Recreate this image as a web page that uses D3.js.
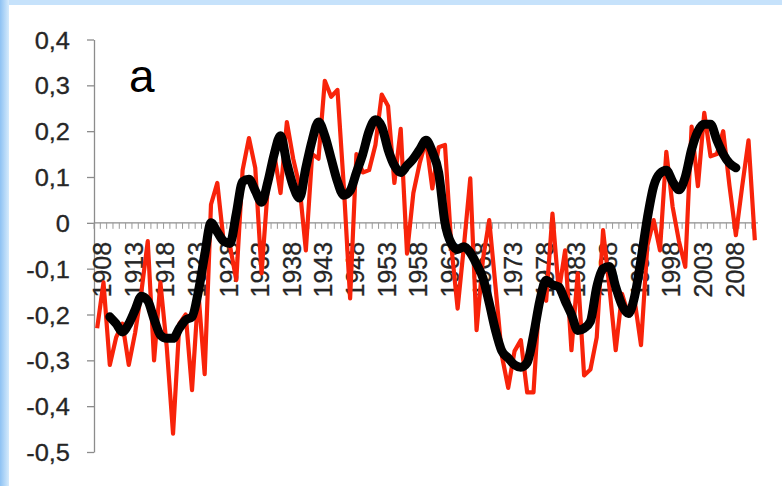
<!DOCTYPE html>
<html>
<head>
<meta charset="utf-8">
<script src="https://cdn.jsdelivr.net/npm/d3@7"></script>
<style>
  html, body { margin: 0; padding: 0; background: #fff; }
  svg { display: block; }
</style>
</head>
<body>
<div id="chart"></div>
<script>
// Years on the category axis (1908 .. 2012)
const years = d3.range(1908, 2013);
const tickYears = [1908, 1913, 1918, 1923, 1928, 1933, 1938, 1943, 1948, 1953, 1958,
                   1963, 1968, 1973, 1978, 1983, 1988, 1993, 1998, 2003, 2008];
const yTicks = [0.4, 0.3, 0.2, 0.1, 0, -0.1, -0.2, -0.3, -0.4, -0.5];

// Annual values (red)
const annual = [
  -0.23, -0.13, -0.31, -0.25, -0.22, -0.31, -0.24, -0.15, -0.04, -0.30,
  -0.13, -0.27, -0.46, -0.22, -0.20, -0.365, -0.15, -0.33, 0.04, 0.087,
  -0.04, -0.05, -0.125, 0.115, 0.185, 0.12, -0.11, 0.08, 0.15, 0.065,
  0.22, 0.14, 0.08, -0.06, 0.15, 0.14, 0.31, 0.275, 0.29, 0.08,
  -0.165, 0.15, 0.11, 0.115, 0.17, 0.28, 0.255, 0.087, 0.205, -0.067,
  0.065, 0.13, 0.18, 0.075, 0.165, 0.17, -0.05, -0.187, -0.05, 0.097,
  -0.234, -0.08, 0.006, -0.14, -0.29, -0.36, -0.28, -0.256, -0.37, -0.37,
  -0.147, -0.17, 0.02, -0.15, -0.06, -0.278, -0.11, -0.333, -0.32, -0.25,
  -0.016, -0.14, -0.278, -0.155, -0.2, -0.17, -0.267, -0.05, 0.006, -0.06,
  0.155, 0.035, -0.04, -0.096, 0.21, 0.08, 0.24, 0.145, 0.15, 0.20,
  0.08, -0.027, 0.08, 0.18, -0.038
];

// Smoothed values (black), null where not defined
const smooth = [
  null, null, -0.205, -0.22, -0.238, -0.22, -0.19, -0.16, -0.17, -0.21,
  -0.245, -0.252, -0.252, -0.23, -0.212, -0.205, -0.15, -0.07, 0.0, -0.02,
  -0.04, -0.045, 0.02, 0.09, 0.095, 0.07, 0.045, 0.09, 0.15, 0.19,
  0.13, 0.08, 0.054, 0.12, 0.18, 0.22, 0.19, 0.14, 0.09, 0.06,
  0.07, 0.11, 0.15, 0.2, 0.225, 0.21, 0.16, 0.125, 0.11, 0.125,
  0.14, 0.16, 0.18, 0.155, 0.11, 0.0, -0.045, -0.058, -0.052, -0.065,
  -0.09, -0.12, -0.175, -0.235, -0.28, -0.295, -0.31, -0.315, -0.305, -0.245,
  -0.17, -0.125, -0.135, -0.14, -0.17, -0.2, -0.235, -0.23, -0.215, -0.14,
  -0.1, -0.095, -0.14, -0.18, -0.198, -0.16, -0.08, 0.01, 0.08, 0.108,
  0.115, 0.09, 0.072, 0.1, 0.16, 0.2, 0.215, 0.215, 0.18, 0.15,
  0.13, 0.12, null, null, null
];

const W = 782, H = 486;
const FONT = "'Liberation Sans', Arial, sans-serif";
const svg = d3.select("#chart").append("svg")
    .attr("width", W)
    .attr("height", H);

// light blue frame like the slide the chart was cut from
const grad = svg.append("defs").append("linearGradient")
    .attr("id", "edge").attr("x1", 0).attr("x2", 1).attr("y1", 0).attr("y2", 0);
grad.append("stop").attr("offset", 0).attr("stop-color", "#8ec2f3");
grad.append("stop").attr("offset", 1).attr("stop-color", "#d6ebfc");
svg.append("rect").attr("width", W).attr("height", H).attr("fill", "#fff");
svg.append("rect").attr("width", W).attr("height", 5).attr("fill", "#c6e2fb");
svg.append("rect").attr("width", 9).attr("height", H).attr("fill", "url(#edge)");

const x = d3.scaleBand()
    .domain(years)
    .range([94, 758]);

const y = d3.scaleLinear()
    .domain([-0.5, 0.4])
    .range([452, 39.5]);

const cx = d => x(d) + x.bandwidth() / 2;
const fmt = v => (v === 0 ? "0" : d3.format(".1f")(v).replace(".", ",").replace("−", "-"));

// Y axis
const yAxis = svg.append("g")
    .attr("transform", "translate(94,0)")
    .call(d3.axisLeft(y).tickValues(yTicks).tickSize(7).tickSizeOuter(0).tickPadding(17).tickFormat(fmt));
yAxis.attr("font-size", null).attr("font-family", null);
yAxis.select(".domain").attr("stroke", "#8c8c8c").attr("stroke-width", 1.3);
yAxis.selectAll(".tick line").attr("stroke", "#8c8c8c").attr("stroke-width", 1.3);
yAxis.selectAll(".tick text")
    .attr("fill", "#262626")
    .attr("stroke", "#262626")
    .attr("stroke-width", 0.3)
    .attr("dy", "0.36em")
    .attr("font-family", FONT)
    .attr("font-size", 24)
    .attr("transform", "scale(1.06,1)")
    .attr("x", -24 / 1.06);

// X axis at zero: minor tick between every year
const xg = svg.append("g").attr("transform", `translate(0,${y(0)})`);
xg.append("line")
    .attr("x1", x.range()[0]).attr("x2", x.range()[1])
    .attr("stroke", "#8c8c8c").attr("stroke-width", 1.3);
xg.selectAll("line.minor")
    .data(years)
    .enter().append("line")
    .attr("class", "minor")
    .attr("x1", d => x(d)).attr("x2", d => x(d))
    .attr("y1", 0).attr("y2", 6)
    .attr("stroke", "#9a9a9a").attr("stroke-width", 1);

// Year labels, rotated
xg.selectAll("text.year")
    .data(tickYears)
    .enter().append("text")
    .attr("class", "year")
    .attr("transform", d => `translate(${cx(d) + 5},19) rotate(-90)`)
    .attr("text-anchor", "end")
    .attr("dy", "0.36em")
    .attr("fill", "#262626")
    .attr("stroke", "#262626")
    .attr("stroke-width", 0.3)
    .attr("font-family", FONT)
    .attr("font-size", 25)
    .text(d => d);

// Red annual line
const redLine = d3.line()
    .x((d, i) => cx(years[i]))
    .y(d => y(d));
svg.append("path")
    .datum(annual)
    .attr("d", redLine)
    .attr("fill", "none")
    .attr("stroke", "#f8230a")
    .attr("stroke-width", 4.2)
    .attr("stroke-linejoin", "round");

// Black smoothed line
const blackLine = d3.line()
    .defined(d => d !== null)
    .x((d, i) => cx(years[i]))
    .y(d => y(d))
    .curve(d3.curveMonotoneX);
svg.append("path")
    .datum(smooth)
    .attr("d", blackLine)
    .attr("fill", "none")
    .attr("stroke", "#000")
    .attr("stroke-width", 9)
    .attr("stroke-linejoin", "round")
    .attr("stroke-linecap", "round");

// Panel letter
svg.append("text")
    .attr("x", 129).attr("y", 92)
    .attr("fill", "#000")
    .attr("font-family", FONT)
    .attr("font-size", 46)
    .text("a");
</script>
</body>
</html>
